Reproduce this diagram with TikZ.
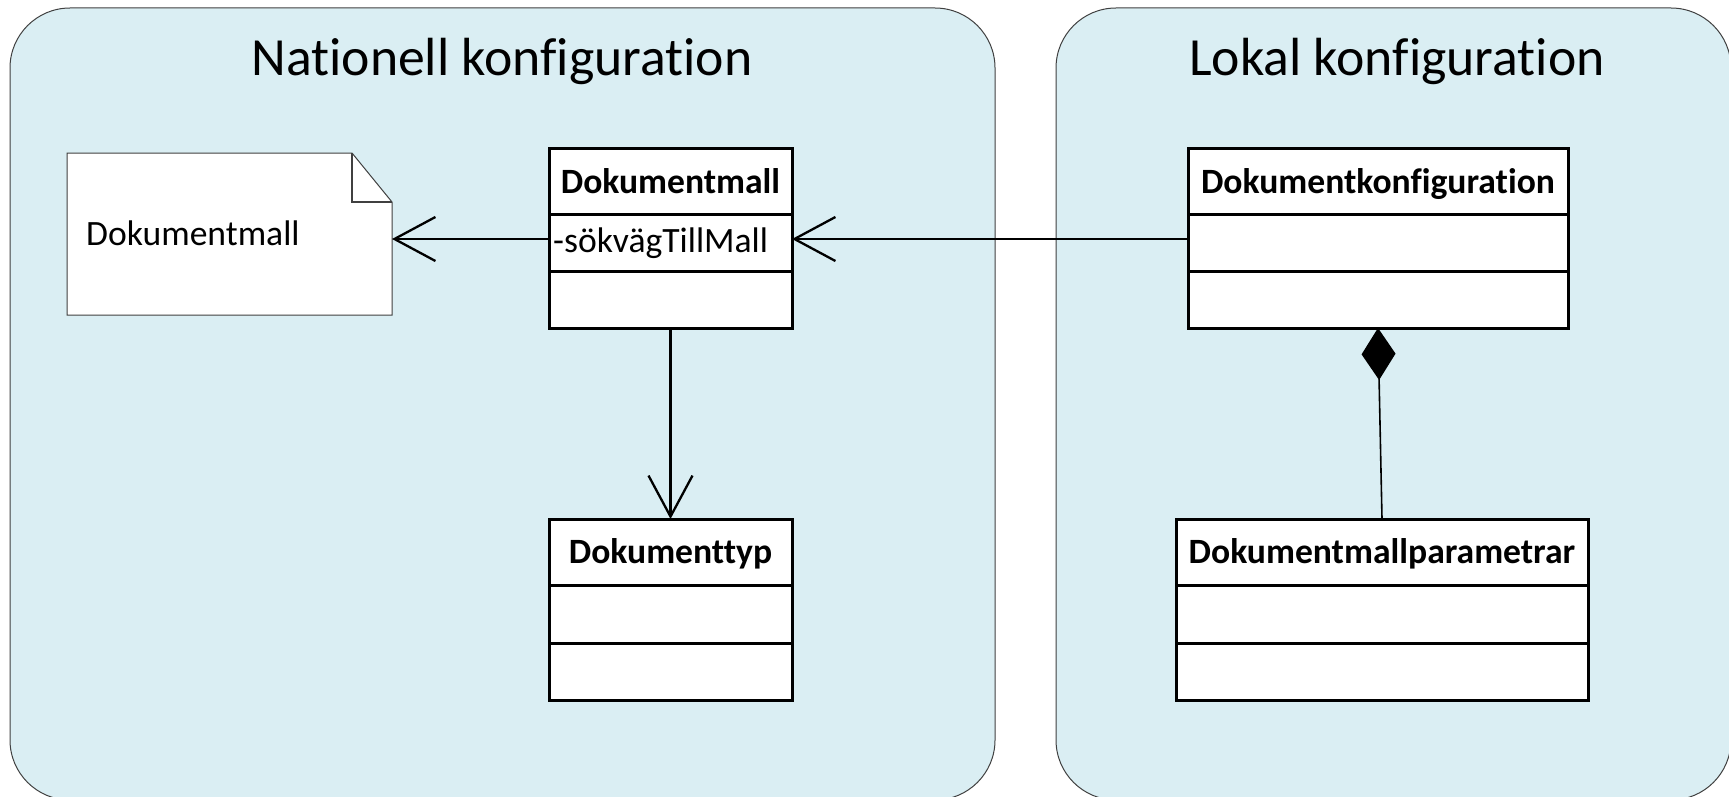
\documentclass[tikz,border=0pt]{standalone}
\usepackage{fontspec}
\setmainfont[Ligatures={NoCommon,NoRare,NoContextual},RawFeature={-liga;-clig;-dlig;-calt}]{Carlito}
\usetikzlibrary{arrows.meta}
\definecolor{panelblue}{HTML}{DAEEF3}
\definecolor{panelline}{HTML}{404040}
\begin{document}
\begin{tikzpicture}[x=1pt,y=-1pt,
  panel/.style={fill=panelblue, draw=panelline, line width=1pt, rounded corners=60pt},
  umlclass/.style={draw=black, fill=white, line width=3pt, inner sep=0pt, outer sep=0pt},
  divider/.style={line width=3pt},
  classname/.style={anchor=base, inner sep=0pt, font=\fontsize{35.6}{40}\selectfont\bfseries},
  plaintext/.style={anchor=base west, inner sep=0pt, font=\fontsize{35.6}{40}\selectfont},
  paneltitle/.style={anchor=base, inner sep=0pt, font=\fontsize{53.7}{60}\selectfont},
  notebox/.style={fill=white, draw=panelline, line width=1pt, line join=miter},
  assoc/.style={line width=2.3pt, -{Straight Barb[length=41pt,width=44pt]}},
  comp/.style={line width=1.6pt, -{Diamond[length=52pt,width=34pt,fill=black]}}
]
\useasboundingbox (0,0) rectangle (1729,797);
% panels
\begin{scope}
  \clip (0,0) rectangle (1729,797);
  \path[panel] (10,8) rectangle (995,800);
  \path[panel] (1056,8) rectangle (1731,800);
\end{scope}
\node[paneltitle] (t1) at (502,76) {Nationell konfiguration};
\node[paneltitle] (t2) at (1397,76) {Lokal konfiguration};

% note
\node[minimum width=325pt, minimum height=162pt, inner sep=0pt, outer sep=0pt] (note) at (229.5,234) {};
\draw[notebox] (note.south west) -- (note.north west) -- ([xshift=-40pt]note.north east)
  -- ([yshift=-49pt]note.north east) -- (note.south east) -- cycle;
\draw[panelline, line width=1.5pt] ([xshift=-40pt]note.north east) -- ([xshift=-40pt,yshift=-49pt]note.north east)
  -- ([yshift=-49pt]note.north east);
\node[plaintext] (notetext) at (86,245) {Dokumentmall};

% classes
\node[umlclass, minimum width=243pt, minimum height=179pt] (dm) at (670.5,238.5) {};
\node[umlclass, minimum width=243pt, minimum height=181pt] (dt) at (670.5,609.5) {};
\node[umlclass, minimum width=380pt, minimum height=179pt] (dk) at (1378,238.5) {};
\node[umlclass, minimum width=412pt, minimum height=181pt] (dp) at (1382,609.5) {};

\draw[divider] ([yshift=-65pt]dm.north west) -- ([yshift=-65pt]dm.north east);
\draw[divider] ([yshift=-122pt]dm.north west) -- ([yshift=-122pt]dm.north east);
\draw[divider] ([yshift=-66pt]dt.north west) -- ([yshift=-66pt]dt.north east);
\draw[divider] ([yshift=-124pt]dt.north west) -- ([yshift=-124pt]dt.north east);
\draw[divider] ([yshift=-65pt]dk.north west) -- ([yshift=-65pt]dk.north east);
\draw[divider] ([yshift=-122pt]dk.north west) -- ([yshift=-122pt]dk.north east);
\draw[divider] ([yshift=-66pt]dp.north west) -- ([yshift=-66pt]dp.north east);
\draw[divider] ([yshift=-124pt]dp.north west) -- ([yshift=-124pt]dp.north east);

\node[classname] (dmname) at (670.5,193) {Dokumentmall};
\node[plaintext] (dmattr) at (553,252) {-sökvägTillMall};
\node[classname] (dtname) at (670.5,563) {Dokumenttyp};
\node[classname] (dkname) at (1378,193) {Dokumentkonfiguration};
\node[classname] (dpname) at (1382,563) {Dokumentmallparametrar};

% connectors
\coordinate (row) at (0,239);
\draw[assoc] (dk.west |- row) -- (dm.east |- row);
\draw[assoc] (dm.west |- row) -- (note.east |- row);
\draw[assoc] (dm.south) -- (dt.north);
\draw[comp] (dp.north) -- (dk.south);
\end{tikzpicture}
\end{document}
